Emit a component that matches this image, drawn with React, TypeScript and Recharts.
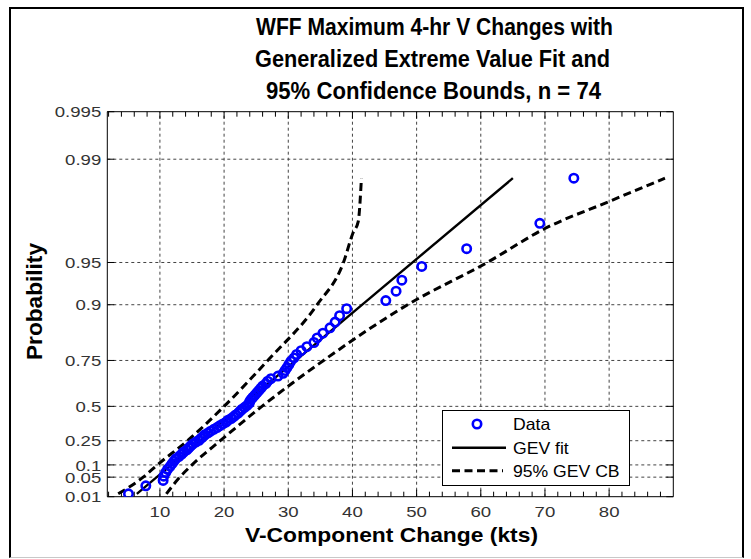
import React from 'react'
import { ComposedChart, Line, Scatter, XAxis, YAxis, ReferenceLine } from 'recharts'

// sorted V-component changes (kts), with their plotting positions i/(n+1)
const V_CHANGE = [
  5.1, 7.8, 10.5, 10.6, 10.9, 11.2, 11.6, 11.9, 12.2, 12.5,
  13.0, 13.4, 13.7, 14.2, 14.5, 14.8, 15.1, 15.6, 16.1, 16.4,
  16.7, 17.0, 17.5, 17.9, 18.4, 18.9, 19.3, 19.8, 20.3, 20.6,
  21.1, 21.5, 21.8, 22.2, 22.5, 22.8, 23.2, 23.6, 23.9, 24.0,
  24.2, 24.5, 24.8, 25.1, 25.4, 25.7, 26.0, 26.5, 26.8, 27.3,
  28.4, 29.2, 29.5, 29.8, 30.1, 30.4, 30.9, 31.3, 32.0, 32.9,
  34.0, 34.5, 35.4, 36.5, 37.3, 38.0, 39.1, 45.2, 46.8, 47.7,
  50.8, 57.8, 69.2, 74.5,
]
const PLOT_PROB = [
  0.0133, 0.0267, 0.0400, 0.0533, 0.0667, 0.0800, 0.0933, 0.1067, 0.1200, 0.1333,
  0.1467, 0.1600, 0.1733, 0.1867, 0.2000, 0.2133, 0.2267, 0.2400, 0.2533, 0.2667,
  0.2800, 0.2933, 0.3067, 0.3200, 0.3333, 0.3467, 0.3600, 0.3733, 0.3867, 0.4000,
  0.4133, 0.4267, 0.4400, 0.4533, 0.4667, 0.4800, 0.4933, 0.5067, 0.5200, 0.5333,
  0.5467, 0.5600, 0.5733, 0.5867, 0.6000, 0.6133, 0.6267, 0.6400, 0.6533, 0.6667,
  0.6800, 0.6933, 0.7067, 0.7200, 0.7333, 0.7467, 0.7600, 0.7733, 0.7867, 0.8000,
  0.8133, 0.8267, 0.8400, 0.8533, 0.8667, 0.8800, 0.8933, 0.9067, 0.9200, 0.9333,
  0.9467, 0.9600, 0.9733, 0.9867,
]

// GEV fit (straight on this paper) and 95% bounds
const FIT_V = [6.4, 65.0]
const FIT_PROB = [0.0133, 0.9867]
const UPPER_V = [3.5, 7.4, 9.6, 14.3, 20.0, 26.8, 34.5, 38.6, 40.1, 40.9, 41.4]
const UPPER_PROB = [0.0133, 0.05, 0.1, 0.25, 0.5, 0.75, 0.9, 0.95, 0.969, 0.974, 0.9867]
const LOWER_V = [11.0, 13.1, 15.0, 19.4, 25.9, 35.5, 48.6, 61.0, 70.0, 80.0, 88.7]
const LOWER_PROB = [0.0133, 0.05, 0.1, 0.25, 0.5, 0.75, 0.9, 0.95, 0.971, 0.981, 0.9867]

const PROB_TICKS = [0.01, 0.05, 0.1, 0.25, 0.5, 0.75, 0.9, 0.95, 0.99, 0.995]
const PROB_LABELS = ['0.01', '0.05', '0.1', '0.25', '0.5', '0.75', '0.9', '0.95', '0.99', '0.995']
const X_LABELLED = [10, 20, 30, 40, 50, 60, 70, 80]
const X_MINOR = [
  2, 4, 6, 8, 10, 12, 14, 16, 18, 20, 22, 24, 26, 28, 30, 32, 34, 36, 38, 40, 42, 44,
  46, 48, 50, 52, 54, 56, 58, 60, 62, 64, 66, 68, 70, 72, 74, 76, 78, 80, 82, 84, 86, 88,
]

const FONT = '"Liberation Sans", Arial, Helvetica, sans-serif'
const SHAPE_K = 0.065  // shape of the GEV probability paper
const gevZ = (p: number) => (Math.pow(-Math.log(p), -SHAPE_K) - 1) / SHAPE_K

const Z_TICKS = PROB_TICKS.map(gevZ)
const Z_DOMAIN = [Z_TICKS[0], Z_TICKS[Z_TICKS.length - 1]]

const points = V_CHANGE.map((v, i) => ({ x: v, z: gevZ(PLOT_PROB[i]) }))
const fitData = FIT_V.map((v, i) => ({ x: v, z: gevZ(FIT_PROB[i]) }))
const upperData = UPPER_V.map((v, i) => ({ x: v, z: gevZ(UPPER_PROB[i]) }))
const lowerData = LOWER_V.map((v, i) => ({ x: v, z: gevZ(LOWER_PROB[i]) }))

const TICK_TEXT = { fontSize: 15.5, fill: '#333', fontFamily: FONT }

const BottomTick = (props: any) => {
  const { x, y, payload } = props
  const major = X_LABELLED.includes(payload.value)
  return (
    <g>
      <line x1={x} x2={x} y1={y} y2={y - (major ? 7 : 5)} stroke="#000" />
      {major && (
        <text transform={`translate(${x},${y + 20}) scale(1.2,1)`} textAnchor="middle" {...TICK_TEXT}>
          {payload.value}
        </text>
      )}
    </g>
  )
}

const TopTick = (props: any) => {
  const { x, y, payload } = props
  const major = X_LABELLED.includes(payload.value)
  return <line x1={x} x2={x} y1={y} y2={y + (major ? 7 : 5)} stroke="#000" />
}

const LeftTick = (props: any) => {
  const { x, y, index } = props
  return (
    <g>
      <line x1={x} x2={x + 7} y1={y} y2={y} stroke="#000" />
      <text transform={`translate(${x - 6},${y + 5.6}) scale(1.2,1)`} textAnchor="end" {...TICK_TEXT}>
        {PROB_LABELS[index]}
      </text>
    </g>
  )
}

const RightTick = (props: any) => {
  const { x, y } = props
  return <line x1={x} x2={x - 7} y1={y} y2={y} stroke="#000" />
}

const Ring = (props: any) => (
  <circle cx={props.cx} cy={props.cy} r={4.2} fill="none" stroke="#0000ff" strokeWidth={2.6} />
)

const GRID = { stroke: '#444', strokeDasharray: '3 3', strokeWidth: 1 }

export default function App() {
  return (
    <div style={{ position: 'absolute', left: 0, top: 0, width: 751, height: 559, background: '#fff', overflow: 'hidden' }}>
      <div
        style={{
          position: 'absolute', left: 9, top: 7, width: 735, height: 551, boxSizing: 'border-box',
          borderLeft: '2px solid #000', borderTop: '2px solid #000', borderRight: '2px solid #000',
          borderBottom: '1px solid #c8c8c8',
        }}
      />
      <div style={{ position: 'absolute', left: 0, top: 0 }}>
        <ComposedChart width={751} height={559} margin={{ top: 101.7, right: 67.7, bottom: 32.3, left: 57.3 }}>
          <XAxis
            dataKey="x" type="number" domain={[1.8, 90]} allowDataOverflow
            ticks={X_MINOR} interval={0} height={30} tickSize={0} tickMargin={0}
            tickLine={false} axisLine={{ stroke: '#000' }} tick={BottomTick}
          />
          <XAxis
            xAxisId="top" orientation="top" dataKey="x" type="number" domain={[1.8, 90]} allowDataOverflow
            ticks={X_MINOR} interval={0} height={10} tickSize={0} tickMargin={0}
            tickLine={false} axisLine={{ stroke: '#000' }} tick={TopTick}
          />
          <YAxis
            dataKey="z" type="number" domain={Z_DOMAIN} allowDataOverflow
            ticks={Z_TICKS} interval={0} width={50} tickSize={0} tickMargin={0}
            tickLine={false} axisLine={{ stroke: '#000' }} tick={LeftTick}
          />
          <YAxis
            yAxisId="right" orientation="right" dataKey="z" type="number" domain={Z_DOMAIN} allowDataOverflow
            ticks={Z_TICKS} interval={0} width={10} tickSize={0} tickMargin={0}
            tickLine={false} axisLine={{ stroke: '#000' }} tick={RightTick}
          />

          {X_LABELLED.map((v) => (
            <ReferenceLine key={`gx${v}`} x={v} {...GRID} />
          ))}
          {Z_TICKS.slice(1, -1).map((z, i) => (
            <ReferenceLine key={`gy${i}`} y={z} {...GRID} />
          ))}

          <Line data={upperData} dataKey="z" type="monotone" stroke="#000" strokeWidth={3}
            strokeDasharray="8 4.5" dot={false} isAnimationActive={false} />
          <Line data={lowerData} dataKey="z" type="monotone" stroke="#000" strokeWidth={3}
            strokeDasharray="8 4.5" dot={false} isAnimationActive={false} />
          <Line data={fitData} dataKey="z" type="linear" stroke="#000" strokeWidth={2.4}
            dot={false} isAnimationActive={false} />
          <Scatter data={points} dataKey="z" shape={Ring} isAnimationActive={false} />
        </ComposedChart>
      </div>

      <svg width={751} height={559} style={{ position: 'absolute', left: 0, top: 0, pointerEvents: 'none' }}>
        <g fontFamily={FONT} fontWeight="bold" fill="#000" fontSize={23} textAnchor="middle">
          <text x={434.5} y={35} textLength={357} lengthAdjust="spacingAndGlyphs">WFF Maximum 4-hr V Changes with</text>
          <text x={432.5} y={67} textLength={355} lengthAdjust="spacingAndGlyphs">Generalized Extreme Value Fit and</text>
          <text x={433.5} y={99} textLength={335} lengthAdjust="spacingAndGlyphs">95% Confidence Bounds, n = 74</text>
        </g>
        <text x={391.5} y={541.7} textAnchor="middle" fontFamily={FONT} fontWeight="bold" fontSize={20.5}
          textLength={293} lengthAdjust="spacingAndGlyphs">V-Component Change (kts)</text>
        <text transform="translate(41.7,301.5) rotate(-90)" textAnchor="middle" fontFamily={FONT}
          fontWeight="bold" fontSize={22.5} textLength={117} lengthAdjust="spacingAndGlyphs">Probability</text>
      </svg>

      <div style={{ position: 'absolute', left: 441.7, top: 410, width: 188, height: 76, boxSizing: 'border-box', border: '1px solid #000', background: '#fff' }}>
        <svg width={186} height={74} style={{ display: 'block' }}>
          <circle cx={34} cy={13} r={4.2} fill="none" stroke="#0000ff" strokeWidth={2.6} />
          <line x1={9} x2={63} y1={36.7} y2={36.7} stroke="#000" strokeWidth={2.4} />
          <line x1={9} x2={60} y1={59.7} y2={59.7} stroke="#000" strokeWidth={3} strokeDasharray="8 4.5" />
          <g fontFamily={FONT} fontSize={16.3} fill="#000">
            <text transform="translate(70,19) scale(1.08,1)">Data</text>
            <text transform="translate(70,42.5) scale(1.08,1)">GEV fit</text>
            <text transform="translate(70,65.5) scale(1.08,1)">95% GEV CB</text>
          </g>
        </svg>
      </div>
    </div>
  )
}
